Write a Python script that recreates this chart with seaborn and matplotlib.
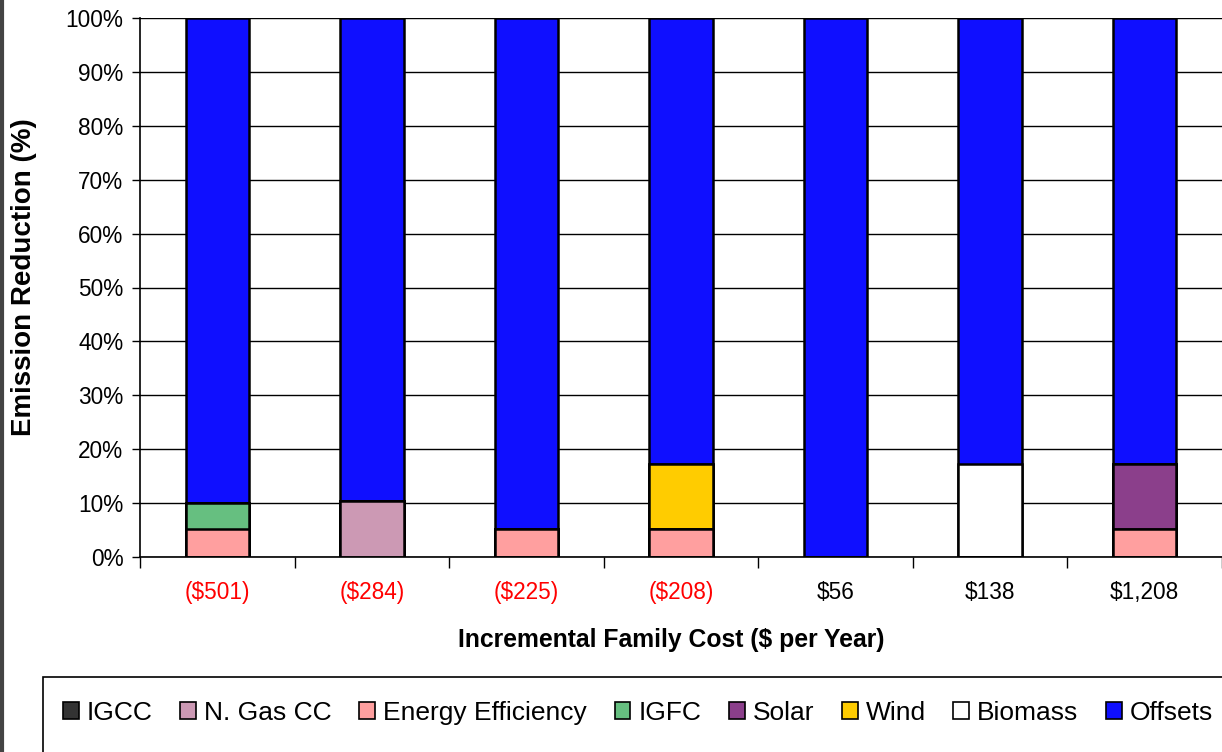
import numpy as np
import pandas as pd
import matplotlib
matplotlib.use("Agg")
import matplotlib.pyplot as plt
import seaborn as sns
from matplotlib.patches import Patch, Rectangle
from matplotlib.lines import Line2D

categories = ["($501)", "($284)", "($225)", "($208)", "$56", "$138", "$1,208"]
label_colors = ["#ff0000", "#ff0000", "#ff0000", "#ff0000", "black", "black", "black"]
series_names = ["IGCC", "N. Gas CC", "Energy Efficiency", "IGFC", "Solar", "Wind", "Biomass", "Offsets"]
igcc = [0, 0, 0, 0, 0, 0, 0]
ngcc = [0, 10.3, 0, 0, 0, 0, 0]
energy_eff = [5.2, 0, 5.2, 5.2, 0, 0, 5.2]
igfc = [4.8, 0, 0, 0, 0, 0, 0]
solar = [0, 0, 0, 0, 0, 0, 12.0]
wind = [0, 0, 0, 12.0, 0, 0, 0]
biomass = [0, 0, 0, 0, 0, 17.2, 0]
offsets = [90.0, 89.7, 94.8, 82.8, 100.0, 82.8, 82.8]
colors = ["#333333", "#cc99b4", "#ff9f9f", "#66bf80", "#8b3f8b", "#ffcc00", "#ffffff", "#0f0fff"]

sns.set_theme(style="white")
plt.rcParams["font.family"] = ["Liberation Sans", "DejaVu Sans"]
plt.rcParams["text.color"] = "black"
plt.rcParams["axes.labelcolor"] = "black"
plt.rcParams["xtick.color"] = "black"
plt.rcParams["ytick.color"] = "black"

fig = plt.figure(figsize=(12.22, 7.52), dpi=100)
ax = fig.add_axes([140 / 1222, 1 - 557 / 752, 1 - 140 / 1222, (557 - 18) / 752])

series = [igcc, ngcc, energy_eff, igfc, solar, wind, biomass, offsets]
cum = np.cumsum(np.array(series, dtype=float), axis=0)

# draw cumulative tops from largest to smallest so lower segments overlay
for i in range(len(series) - 1, -1, -1):
    df = pd.DataFrame({"cat": categories, "val": cum[i]})
    sns.barplot(data=df, x="cat", y="val", color=colors[i], saturation=1,
                edgecolor="black", linewidth=1.8, width=0.41, ax=ax, zorder=3)

ax.set_xlim(-0.5, len(categories) - 0.5)
ax.set_ylim(0, 100)
ax.set_yticks(np.arange(0, 101, 10))
ax.set_yticklabels([f"{v}%" for v in range(0, 101, 10)], fontsize=16.3)
ax.yaxis.grid(True, color="black", linewidth=1.0, zorder=0)
ax.set_axisbelow(True)

ax.set_xticks(range(len(categories)))
ax.set_xticklabels(categories, fontsize=16.3)
for lbl, c in zip(ax.get_xticklabels(), label_colors):
    lbl.set_color(c)
ax.set_xticks(np.arange(-0.5, len(categories), 1.0), minor=True)
ax.tick_params(axis="x", which="major", length=0, pad=17)
ax.tick_params(axis="x", which="minor", length=8, width=1, color="black", direction="out", bottom=True)
ax.tick_params(axis="y", which="major", length=6, width=1, color="black", direction="out", left=True, pad=6)

for s in ["top", "right"]:
    ax.spines[s].set_visible(False)
ax.spines["left"].set_color("black")
ax.spines["bottom"].set_color("black")
ax.spines["left"].set_linewidth(1.2)
ax.spines["bottom"].set_linewidth(1.2)

ax.set_xlabel("Incremental Family Cost ($ per Year)", fontsize=17.8, fontweight="bold", color="black")
ax.xaxis.label.set_va("center")
ax.xaxis.set_label_coords((671 - 140) / 1082, (557 - 640) / 539)
ax.set_ylabel("Emission Reduction (%)", fontsize=20, fontweight="bold", color="black")
ax.yaxis.label.set_va("center")
ax.yaxis.label.set_ha("center")
ax.yaxis.set_label_coords((24 - 140) / 1082, (557 - 277) / 539)

# legend box
fig.patches.append(Rectangle((43 / 1222, -0.05), 1.0, 0.05 + (752 - 677) / 752,
                             transform=fig.transFigure, fill=False, edgecolor="black",
                             linewidth=1.2))
# left figure border
fig.lines.append(Line2D([0.0015, 0.0015], [0, 1], transform=fig.transFigure,
                        color="#444444", linewidth=3))

handles = [Patch(facecolor=c, edgecolor="black", linewidth=1.2) for c in colors]
leg = fig.legend(handles, series_names, loc="center", bbox_to_anchor=(638 / 1222, 1 - 713 / 752),
                 ncol=8, frameon=False, fontsize=19, handlelength=0.6, handleheight=0.6,
                 handletextpad=0.3, columnspacing=1.05)
for t in leg.get_texts():
    t.set_color("black")

fig.savefig("out.png", dpi=100)
